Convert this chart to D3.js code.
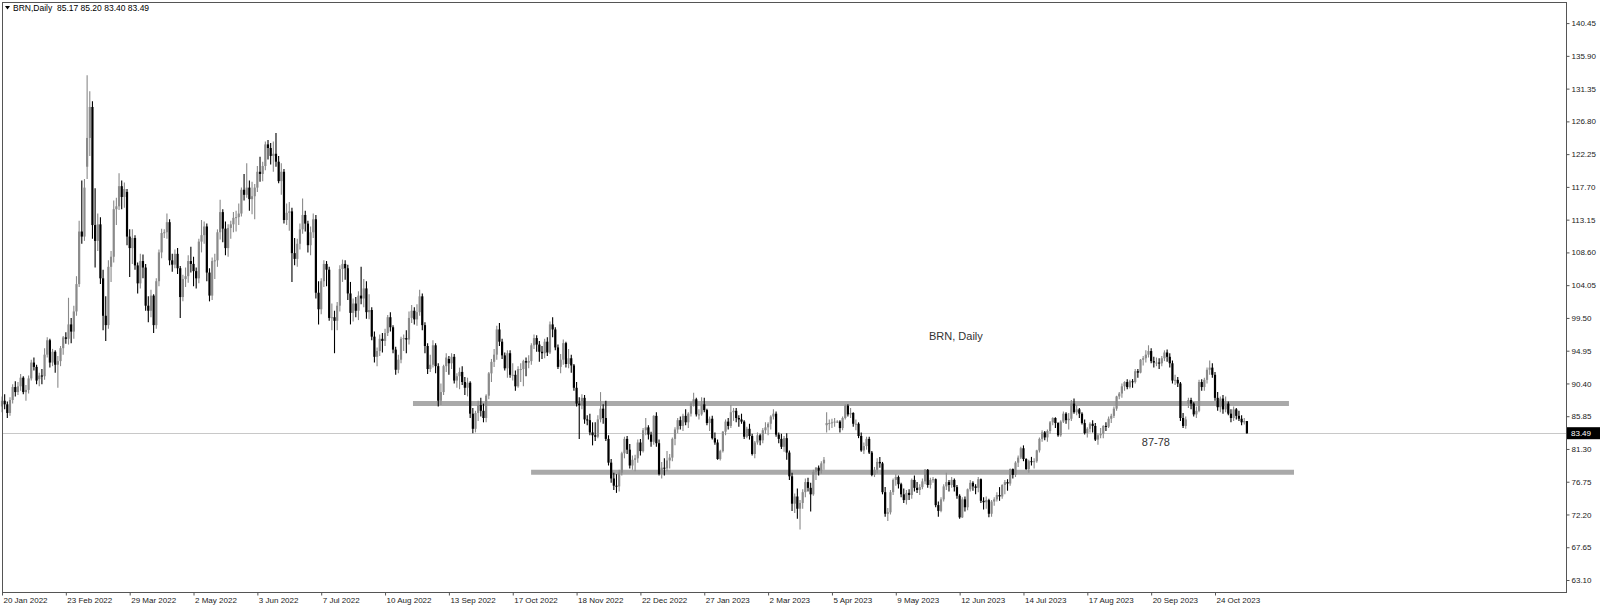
<!DOCTYPE html>
<meta charset="utf-8">
<style>
    html, body { margin: 0; padding: 0; background: #fff; }
    svg text { font-family: "Liberation Sans", Arial, sans-serif; }
</style>
<script src="https://d3js.org/d3.v7.min.js"></script>
<div id="chart"></div>
<script>
// ---- data ----
const symbolTitle = "BRN,Daily";
const lastQuote = [85.17, 85.20, 83.40, 83.49];   // O H L C of the last bar
const dateLabels = ["20 Jan 2022", "23 Feb 2022", "29 Mar 2022", "2 May 2022", "3 Jun 2022", "7 Jul 2022",
    "10 Aug 2022", "13 Sep 2022", "17 Oct 2022", "18 Nov 2022", "22 Dec 2022", "27 Jan 2023", "2 Mar 2023",
    "5 Apr 2023", "9 May 2023", "12 Jun 2023", "14 Jul 2023", "17 Aug 2023", "20 Sep 2023", "24 Oct 2023"];
const barsPerLabel = 24;
const priceTicks = [63.10, 67.65, 72.20, 76.75, 81.30, 85.85, 90.40, 94.95, 99.50, 104.05, 108.60,
    113.15, 117.70, 122.25, 126.80, 131.35, 135.90, 140.45];

// horizontal levels drawn on the chart (price, from bar, to bar)
const levelPrices = [87.6, 78.05];
const levelFrom = [154.5, 198.9];
const levelTo = [483.8, 485.7];

// text objects (text, bar, price)
const noteTexts = ["BRN, Daily", "87-78"];
const noteBars = [348.5, 428.5];
const notePrices = [96.4, 81.7];

// daily bars, 20 Jan 2022 onwards
const opens = [
    87.2,88.0,87.5,86.3,88.1,89.9,89.2,90.0,91.2,89.2,89.5,91.1,93.3,92.7,91.0,91.5,91.4,94.4,96.4,93.3,94.8,93.0,93.5,95.3,96.8,
    96.6,98.6,97.6,100.4,104.2,111.5,110.8,120.5,124.5,128.8,112.4,110.2,112.5,105.0,99.8,98.5,106.6,108.0,114.6,115.0,117.8,116.3,117.0,110.8,
    109.2,110.6,106.8,104.3,107.4,106.5,101.2,100.5,102.6,98.5,104.6,108.6,111.3,111.4,112.8,107.5,106.9,108.4,106.4,102.4,104.9,105.3,107.4,107.0,
    106.0,105.0,110.1,111.0,112.2,105.8,102.6,107.4,107.5,111.4,114.2,111.9,109.2,112.0,112.5,113.4,113.5,114.0,117.3,116.6,117.6,116.0,116.4,117.6,
    119.8,119.5,120.6,123.6,123.1,122.0,122.3,121.2,118.5,119.8,113.1,114.1,114.3,108.5,107.7,109.8,111.8,113.8,112.6,109.6,111.4,113.2,103.0,100.7,
    104.6,107.0,106.2,99.5,99.6,99.1,101.2,106.3,107.0,106.4,102.9,100.2,101.5,100.5,102.6,102.2,103.6,100.3,100.6,96.9,94.1,94.9,96.6,96.3,
    97.4,99.6,98.2,95.1,92.3,93.7,96.6,96.7,96.5,99.5,100.5,99.3,100.3,102.5,98.5,95.6,92.4,93.0,95.7,92.8,88.0,89.2,92.8,93.8,
    93.2,94.1,90.8,91.4,92.0,90.6,89.8,90.5,86.2,84.1,86.3,87.4,86.6,85.6,88.7,91.8,93.4,94.4,97.9,96.2,94.3,92.5,94.6,91.6,
    91.6,90.0,92.4,92.4,93.5,93.3,93.5,95.7,96.7,95.8,94.8,94.6,96.2,94.7,98.6,97.9,95.4,92.7,93.7,96.0,93.1,93.9,92.9,89.8,
    87.6,87.4,88.4,85.4,85.3,83.6,83.2,83.0,85.4,86.9,85.6,82.7,79.4,77.2,76.2,76.1,78.0,80.7,82.7,81.2,79.0,79.8,80.0,82.2,
    81.0,83.9,84.3,83.3,82.3,85.9,82.1,77.8,78.7,78.6,79.7,80.1,82.7,84.0,85.3,84.5,85.9,85.0,86.2,87.6,88.2,86.1,86.1,87.5,
    86.7,84.9,85.5,82.8,82.2,79.9,81.0,83.7,85.1,84.5,86.4,86.6,85.6,85.4,85.1,83.0,84.1,83.1,80.6,82.2,83.2,82.5,83.9,84.3,
    84.8,85.8,86.2,83.3,82.7,81.6,82.8,80.8,77.5,73.7,74.7,73.0,73.8,75.3,76.7,75.9,75.0,78.1,78.7,78.3,79.3,84.6,84.9,84.9,
    85.0,85.1,85.1,84.2,85.6,87.3,86.1,86.3,84.8,84.8,83.1,81.1,81.7,82.7,80.8,77.7,78.4,79.5,79.3,75.3,72.3,72.5,75.3,77.0,
    77.4,76.4,75.0,74.2,75.2,74.9,77.0,75.9,75.6,76.0,76.8,78.4,76.3,77.0,77.1,73.5,72.7,74.3,76.1,76.7,76.3,77.0,76.0,74.8,
    71.8,74.3,73.2,75.7,76.6,76.1,75.9,77.1,74.1,73.9,74.2,72.3,74.0,74.3,74.9,74.7,76.3,76.7,76.5,78.5,77.7,79.4,80.1,81.4,
    79.9,78.5,79.6,79.5,79.6,81.1,82.7,83.6,82.9,83.8,85.0,85.6,84.9,83.2,85.1,86.2,85.3,85.5,87.6,86.4,86.8,86.2,84.9,83.5,
    84.1,84.8,84.5,82.6,83.2,83.4,84.5,84.4,85.5,85.9,86.9,88.6,89.0,90.0,90.6,89.9,90.7,90.6,92.1,91.9,93.7,93.9,94.4,94.9,
    93.5,93.3,93.3,93.2,93.9,94.7,94.1,93.2,90.8,90.9,90.4,85.6,84.5,87.6,88.1,87.6,86.1,86.6,90.6,89.9,90.9,92.3,92.6,91.6,
    88.4,87.1,88.3,86.8,87.6,86.2,85.6,86.8,85.9,85.5,85.0,85.17
];
const highs = [
    88.6,88.9,87.9,88.5,90.3,90.7,90.6,91.7,91.4,90.2,91.5,93.7,94.0,93.0,91.9,92.4,95.3,96.8,96.6,95.2,95.0,94.2,95.6,97.0,97.5,
    102.3,99.5,101.2,105.3,113.0,118.6,118.8,133.2,131.0,129.6,117.5,114.0,113.5,106.2,102.5,107.5,108.8,115.8,116.2,119.6,118.6,118.3,117.4,111.8,
    111.8,111.0,107.2,108.4,108.3,107.0,102.5,103.4,102.8,105.0,109.0,111.9,111.8,114.0,113.2,108.4,109.0,109.2,106.7,105.5,106.5,108.2,109.4,108.0,
    106.5,110.5,113.1,112.9,112.6,106.4,107.9,108.4,111.8,115.9,114.6,112.9,112.5,113.0,114.2,114.4,115.4,117.6,119.5,121.0,118.6,118.4,118.1,120.6,
    121.9,121.2,124.0,124.2,123.8,124.0,125.2,122.0,121.0,120.2,115.4,115.6,114.8,110.6,110.5,112.6,116.1,114.4,113.0,112.2,114.0,113.8,104.6,105.0,
    107.5,107.4,106.6,101.5,100.5,101.7,106.8,107.6,107.5,106.9,104.5,102.2,102.4,103.2,106.6,104.9,104.6,102.8,101.0,97.6,95.4,97.2,97.4,98.0,
    99.9,100.3,98.5,95.5,94.4,96.9,97.2,97.8,100.4,101.3,101.0,101.4,103.4,102.9,98.9,96.0,94.4,96.4,96.0,93.2,90.4,93.0,94.6,94.2,
    94.6,94.5,91.8,92.6,92.8,91.3,91.2,90.7,87.0,86.6,88.0,88.4,87.6,88.9,92.0,93.8,95.2,98.4,98.8,96.6,94.7,95.0,95.0,93.2,
    92.2,92.8,93.2,93.7,94.0,94.3,96.0,97.2,97.1,96.3,95.6,96.6,96.8,99.0,99.6,98.2,95.8,94.5,96.5,96.2,95.2,94.4,93.1,90.6,
    88.5,88.9,88.8,86.0,86.2,85.0,85.0,86.0,89.2,87.5,88.0,83.2,79.9,78.0,77.8,78.4,80.9,83.0,83.1,82.0,80.4,80.5,82.6,82.7,
    84.2,85.6,84.6,83.7,86.0,86.4,82.6,79.5,80.0,81.0,80.6,82.9,84.3,85.6,85.8,86.2,86.8,86.4,87.8,89.1,88.4,86.8,88.5,88.4,
    86.9,85.8,85.9,83.6,82.6,81.2,83.8,85.4,85.6,87.4,87.0,87.0,86.0,86.2,85.3,84.4,84.8,83.4,82.4,83.6,83.4,84.2,85.0,85.0,
    86.0,86.8,86.5,83.6,83.4,83.1,83.5,81.1,78.0,75.1,75.8,74.2,75.7,77.2,77.3,76.6,78.4,78.8,79.0,79.6,80.2,86.4,85.4,85.5,
    85.6,85.3,85.3,85.8,87.5,87.5,87.0,86.4,85.4,85.0,83.6,82.2,83.0,83.0,81.0,78.8,80.0,80.2,79.5,76.0,73.1,75.6,77.2,77.8,
    77.6,76.6,75.8,75.6,75.7,77.2,77.6,76.7,76.4,77.2,78.5,78.5,77.3,77.4,77.2,74.0,74.6,76.4,78.0,77.0,77.4,77.2,76.3,75.0,
    74.6,74.7,75.8,77.0,76.8,76.4,77.4,77.2,74.6,74.7,74.4,74.2,74.6,75.3,76.0,76.4,77.0,77.1,78.6,78.6,79.6,80.4,81.6,81.8,
    80.0,79.8,80.2,80.0,81.2,82.9,83.9,83.8,84.0,85.2,85.7,85.7,85.0,85.3,86.5,86.4,86.3,88.1,88.3,87.4,87.0,86.4,85.4,84.3,
    85.0,85.3,84.9,83.5,84.2,84.6,85.0,85.8,86.2,87.2,88.7,89.2,90.4,90.7,91.0,90.9,91.0,92.4,92.4,93.8,94.2,95.0,95.7,95.3,
    94.1,94.0,93.9,94.2,95.0,95.1,94.6,93.6,91.6,91.3,90.6,86.3,85.8,88.4,88.4,87.8,87.2,90.9,91.0,91.2,92.6,93.6,93.2,92.0,
    89.2,88.6,88.8,88.6,87.9,86.8,87.2,87.0,86.6,86.0,85.6,85.20
];
const lows = [
    86.4,86.8,85.6,85.9,87.6,88.6,88.8,89.4,88.9,88.0,89.0,90.8,92.2,90.3,90.0,90.3,90.9,94.0,92.6,92.8,91.9,89.8,92.8,94.4,95.9,
    95.8,96.0,96.6,99.8,103.8,109.8,110.2,118.8,122.0,110.5,106.5,108.8,104.2,97.8,96.3,98.0,104.5,107.2,112.4,114.5,114.6,114.8,109.6,105.2,
    107.0,106.2,102.9,103.6,105.0,100.5,98.9,99.6,97.4,98.0,103.9,107.8,110.6,110.5,106.8,105.9,106.4,105.6,99.5,101.8,103.8,104.4,105.8,103.9,
    103.6,104.3,108.6,109.8,104.6,101.8,102.0,104.9,106.6,110.4,110.0,108.2,108.0,110.5,111.4,111.5,112.4,113.6,115.8,116.2,114.4,113.9,113.2,117.0,
    118.4,118.5,120.0,121.5,120.8,119.8,120.5,118.2,116.6,112.6,112.4,111.6,104.5,106.8,106.6,109.0,111.2,111.5,108.6,108.2,110.6,102.2,98.6,100.0,
    103.8,103.9,99.1,97.8,94.6,97.8,100.4,104.5,104.8,102.0,98.6,99.0,99.6,99.2,101.4,101.0,99.4,99.3,96.4,93.3,92.8,94.2,94.7,95.6,
    97.0,97.6,94.6,91.6,91.8,93.2,94.9,94.6,95.8,98.8,98.6,98.4,99.8,97.8,94.6,91.7,92.0,92.6,91.8,87.2,87.4,88.8,92.0,91.6,
    92.4,90.4,89.8,89.6,90.2,88.8,88.6,85.6,83.5,83.6,85.2,85.8,85.0,85.0,88.2,90.6,92.7,93.7,95.6,93.8,92.2,91.2,91.2,90.8,
    89.4,89.8,90.6,90.0,91.4,92.5,93.0,95.2,94.8,93.4,93.8,93.9,94.2,94.5,96.8,95.0,92.4,91.8,93.0,92.6,92.5,91.9,89.4,87.2,
    82.7,86.8,84.8,84.6,83.2,81.8,82.4,82.8,85.0,84.8,82.4,79.0,76.6,75.6,75.2,75.4,77.6,80.0,80.6,78.6,78.4,78.2,79.4,80.4,
    80.8,83.2,82.6,81.6,81.9,81.6,77.6,77.2,77.6,78.2,78.6,79.6,81.8,83.5,84.0,83.8,84.6,84.2,85.8,87.2,85.8,85.4,85.9,86.4,
    84.6,83.8,82.6,81.9,79.8,79.7,80.8,83.2,84.0,84.2,85.2,85.0,84.4,84.8,82.7,82.8,82.6,80.4,80.0,81.9,81.8,82.1,83.4,83.2,
    84.0,85.4,83.0,82.1,81.3,80.9,79.8,77.0,72.7,72.4,71.6,70.1,73.0,74.6,75.4,72.6,74.8,77.0,77.6,77.9,78.4,83.6,83.9,84.2,
    84.4,84.9,83.6,83.9,85.4,85.8,85.6,84.4,83.9,82.8,80.9,80.6,81.2,80.6,77.5,77.4,77.9,78.7,75.0,71.9,71.3,72.2,74.9,76.2,
    75.8,74.6,73.8,73.6,74.2,74.4,75.4,75.2,74.9,75.7,76.4,75.9,75.8,76.6,73.2,71.9,72.5,74.0,75.6,75.4,75.9,75.4,74.4,71.6,
    71.7,72.6,72.8,75.4,75.5,75.0,75.3,73.8,72.9,73.0,71.8,71.9,73.4,74.0,74.1,74.4,75.0,75.5,76.2,77.2,77.4,78.8,79.9,79.6,
    78.4,78.0,79.0,78.6,79.4,80.8,82.3,82.5,82.3,83.4,84.6,84.2,83.0,83.0,84.9,84.8,84.0,85.2,86.2,86.0,85.6,84.7,83.3,82.9,
    83.6,83.6,82.4,81.9,82.8,82.8,83.8,84.2,84.9,85.6,86.6,88.2,88.4,89.4,89.6,89.7,89.8,90.4,91.2,91.8,92.9,93.3,94.0,93.2,
    92.6,92.8,92.4,92.8,93.5,93.4,92.6,90.4,90.2,89.9,85.2,84.2,84.1,87.0,86.8,85.8,85.6,86.4,89.4,89.4,90.4,91.6,91.2,88.0,
    86.6,86.4,86.2,86.4,86.0,85.0,85.2,85.4,85.2,84.6,84.7,83.40
];
const closes = [
    88.0,87.5,86.3,88.1,89.9,89.2,90.0,91.2,89.2,89.5,91.1,93.3,92.7,90.8,91.5,91.4,94.4,96.4,93.3,94.8,93.0,93.5,95.3,96.8,96.6,
    98.6,97.6,100.4,104.2,111.5,110.8,117.6,124.5,128.8,112.4,110.2,112.5,105.0,99.8,98.5,106.6,108.0,114.6,115.0,117.8,116.3,117.4,110.8,109.2,
    110.6,106.8,104.3,107.4,106.5,101.2,100.5,102.6,98.5,104.6,108.6,111.3,111.4,112.8,107.5,106.9,108.4,106.4,102.4,104.9,105.3,107.4,107.0,106.0,
    105.0,110.1,111.0,112.2,105.8,102.6,107.4,107.5,111.4,114.2,111.9,109.2,112.0,112.5,113.4,113.5,114.0,117.3,116.6,117.6,116.0,116.4,117.6,119.8,
    119.5,120.6,123.6,123.1,122.0,122.3,121.2,118.5,119.8,113.1,114.1,114.3,108.5,107.7,109.8,111.8,113.8,112.6,109.6,111.4,113.2,103.0,100.7,104.6,
    107.0,106.2,99.5,99.6,99.1,101.2,106.3,107.0,106.4,102.9,100.2,101.5,100.5,102.6,102.2,103.6,100.3,100.6,96.9,94.1,94.9,96.6,96.3,97.4,
    99.6,98.2,95.1,92.3,93.7,96.6,96.7,96.5,99.5,100.5,99.3,100.3,102.5,98.5,95.6,92.4,93.0,95.7,92.8,88.0,89.2,92.8,94.0,93.2,
    94.1,90.8,91.4,92.0,90.6,89.8,90.5,86.2,84.1,86.3,87.4,86.6,85.6,88.7,91.8,93.4,94.4,97.9,96.2,94.3,92.5,94.6,91.6,91.6,
    90.0,92.4,92.4,93.5,93.3,93.5,95.7,96.7,95.8,94.8,94.6,96.2,94.7,98.6,97.9,95.4,92.7,93.7,96.0,93.1,93.9,92.9,89.8,87.6,
    87.4,88.4,85.4,85.3,83.6,83.2,83.0,85.4,86.9,85.6,82.7,79.4,77.2,76.2,76.1,78.0,80.7,82.7,81.2,79.0,79.8,80.0,82.2,81.0,
    83.9,84.3,83.3,82.3,85.9,82.1,77.8,78.7,78.6,79.7,80.1,82.7,84.0,85.3,84.5,85.9,85.0,86.2,87.6,88.2,86.1,86.1,87.5,86.7,
    84.9,85.5,82.8,82.2,79.9,81.0,83.7,85.1,84.5,86.4,86.6,85.6,85.4,85.1,83.0,84.1,83.1,80.6,82.2,83.2,82.5,83.9,84.3,84.8,
    85.8,86.2,83.3,82.7,81.6,82.8,80.8,77.5,73.7,74.7,73.0,73.8,75.3,76.7,75.9,75.0,78.1,78.7,78.3,79.3,79.8,84.9,84.9,85.0,
    85.1,85.1,84.2,85.6,87.3,86.1,86.3,84.8,84.8,83.1,81.1,81.7,82.7,80.8,77.7,78.4,79.5,79.3,75.3,72.3,72.5,75.3,77.0,77.4,
    76.4,75.0,74.2,75.2,74.9,77.0,75.9,75.6,76.0,76.8,78.4,76.3,77.0,77.1,73.5,72.7,74.3,76.1,76.7,76.3,77.0,76.0,74.8,71.8,
    74.3,73.2,75.7,76.6,76.1,75.9,77.1,74.1,73.9,74.2,72.3,74.0,74.3,74.9,74.7,76.3,76.7,76.5,78.5,77.7,79.4,80.1,81.4,79.9,
    78.5,79.6,79.5,79.6,81.1,82.7,83.6,82.9,83.8,85.0,85.6,84.9,83.2,85.1,86.2,85.3,85.5,87.6,86.4,86.8,86.2,84.9,83.5,84.1,
    84.8,84.5,82.6,83.2,83.4,84.5,84.4,85.5,85.9,86.9,88.6,89.0,90.0,90.6,89.9,90.7,90.6,92.1,91.9,93.7,93.9,94.4,94.9,93.5,
    93.3,93.3,93.2,93.9,94.7,94.1,93.2,90.8,90.9,90.4,85.6,84.5,85.4,88.1,87.6,86.1,86.6,90.6,89.9,90.9,92.3,92.6,91.6,88.4,
    87.1,88.3,86.8,87.6,86.2,85.6,86.8,85.9,85.5,85.0,85.17,83.49
];

// ---- layout ----
const width = 1600, height = 608;
const frame = {left: 2, right: 1566, top: 2, bottom: 592};
const bullColor = "#8a8a8a", bearColor = "#000000";

const svg = d3.select("#chart")
  .append("svg")
    .attr("width", width)
    .attr("height", height);

// bar index -> x, price -> y
const x = d3.scaleLinear().domain([0, 456]).range([2, 1215]);
const y = d3.scaleLinear().domain([63.10, 140.45]).range([580, 23.1]);

const n = Math.min(opens.length, highs.length, lows.length, closes.length);
const bars = d3.range(n).map(i => ({i: i, o: opens[i], h: highs[i], l: lows[i], c: closes[i]}));

const plotArea = svg.append("g");

// levels
plotArea.selectAll("line.level")
  .data(levelPrices)
  .join("line")
    .attr("class", "level")
    .attr("x1", (d, k) => x(levelFrom[k]))
    .attr("x2", (d, k) => x(levelTo[k]))
    .attr("y1", d => y(d))
    .attr("y2", d => y(d))
    .attr("stroke", "#a9a9a9")
    .attr("stroke-width", 5);

// current price line
plotArea.append("line")
    .attr("x1", frame.left).attr("x2", frame.right)
    .attr("y1", Math.round(y(lastQuote[3])) + 0.5)
    .attr("y2", Math.round(y(lastQuote[3])) + 0.5)
    .attr("stroke", "#c8c8c8")
    .attr("stroke-width", 1);

// candles
const candle = plotArea.append("g").selectAll("g")
  .data(bars)
  .join("g");

candle.append("line")
    .attr("x1", d => x(d.i)).attr("x2", d => x(d.i))
    .attr("y1", d => y(d.h)).attr("y2", d => y(d.l))
    .attr("stroke", d => d.c >= d.o ? bullColor : bearColor)
    .attr("stroke-width", 1.1);

candle.append("rect")
    .attr("x", d => x(d.i) - 1.1)
    .attr("width", 2.2)
    .attr("y", d => y(Math.max(d.o, d.c)))
    .attr("height", d => Math.max(1, Math.abs(y(d.o) - y(d.c))))
    .attr("fill", d => d.c >= d.o ? bullColor : bearColor);

// notes
svg.selectAll("text.note")
  .data(noteTexts)
  .join("text")
    .attr("class", "note")
    .attr("x", (d, k) => x(noteBars[k]))
    .attr("y", (d, k) => y(notePrices[k]))
    .attr("font-size", "11px")
    .attr("fill", "#333")
    .text(d => d);

// frame
svg.append("rect")
    .attr("x", frame.left + 0.5).attr("y", frame.top + 0.5)
    .attr("width", frame.right - frame.left).attr("height", frame.bottom - frame.top)
    .attr("fill", "none")
    .attr("stroke", "#555")
    .attr("stroke-width", 1);

// right price axis
const yAxis = svg.append("g")
    .attr("transform", `translate(${frame.right + 0.5},0)`)
    .call(d3.axisRight(y).tickValues(priceTicks).tickSize(3).tickPadding(2).tickFormat(d3.format(".2f")));
yAxis.select(".domain").remove();
yAxis.selectAll("line").attr("stroke", "#555");
yAxis.selectAll("text").attr("font-size", "8px").attr("fill", "#222").attr("font-family", "Liberation Sans, Arial, sans-serif");

// bottom time axis
const xAxis = svg.append("g")
    .attr("transform", `translate(0,${frame.bottom + 0.5})`)
    .call(d3.axisBottom(x)
        .tickValues(dateLabels.map((d, k) => k * barsPerLabel))
        .tickSize(3).tickPadding(2)
        .tickFormat((d, k) => dateLabels[k]));
xAxis.select(".domain").remove();
xAxis.selectAll("line").attr("stroke", "#555");
xAxis.selectAll("text")
    .attr("text-anchor", "start")
    .attr("dx", 1)
    .attr("font-size", "8px").attr("fill", "#222")
    .attr("font-family", "Liberation Sans, Arial, sans-serif");

// last price tag
const yLast = y(lastQuote[3]);
svg.append("rect")
    .attr("x", frame.right + 1).attr("y", yLast - 6)
    .attr("width", 33).attr("height", 12)
    .attr("fill", "#000");
svg.append("text")
    .attr("x", frame.right + 5).attr("y", yLast + 3)
    .attr("font-size", "8px").attr("fill", "#fff")
    .text(lastQuote[3].toFixed(2));

// header
svg.append("path")
    .attr("d", "M5,6 L10,6 L7.5,9.5 Z")
    .attr("fill", "#000");
svg.append("text")
    .attr("x", 13).attr("y", 11)
    .attr("font-size", "8.5px").attr("fill", "#000")
    .style("white-space", "pre")
    .text(symbolTitle + "  " + lastQuote.map(v => v.toFixed(2)).join(" "));
</script>
